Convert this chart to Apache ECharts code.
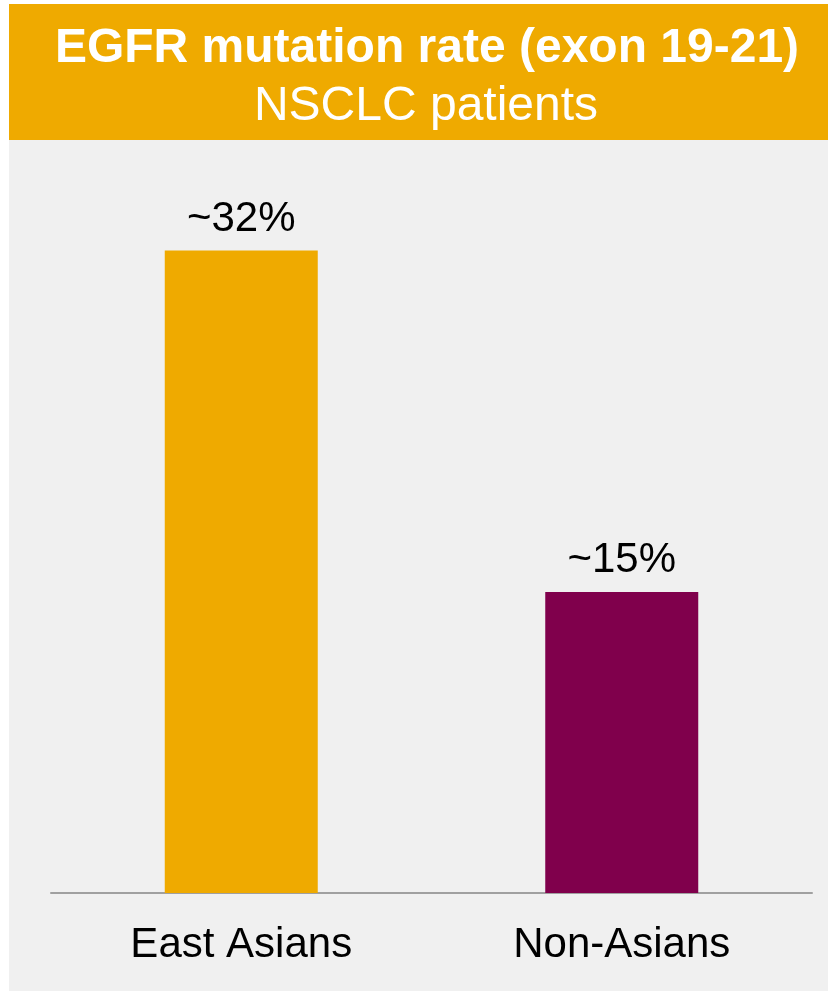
<!DOCTYPE html>
<html>
<head>
<meta charset="utf-8">
<style>
  html, body { margin: 0; padding: 0; background: #ffffff; }
  #chart { width: 828px; height: 991px; }
</style>
<script src="https://cdn.jsdelivr.net/npm/echarts@6/dist/echarts.min.js"></script>
</head>
<body>
<div id="chart"></div>
<script>
const categories = ["East Asians", "Non-Asians"];
const values = [32, 15];
const valueLabels = ["~32%", "~15%"];
const barColors = ["#EFAA00", "#80004C"];
const titleText = "EGFR mutation rate (exon 19-21)";
const subtitleText = "NSCLC patients";

const FONT = "'Liberation Sans', Arial, sans-serif";
const chart = echarts.init(document.getElementById('chart'));
chart.setOption({
  backgroundColor: '#ffffff',
  animation: false,
  graphic: [
    { type: 'rect', z: -10, shape: { x: 9, y: 140, width: 819, height: 851 }, style: { fill: '#F0F0F0' } },
    { type: 'rect', z: -10, shape: { x: 9, y: 4, width: 819, height: 136 }, style: { fill: '#EFAA00' } },
    { type: 'text', x: 427, y: 49, style: { text: titleText, fill: '#ffffff', font: 'bold 48px ' + FONT, textAlign: 'center', textVerticalAlign: 'middle' } },
    { type: 'text', x: 426, y: 107, style: { text: subtitleText, fill: '#ffffff', font: '48px ' + FONT, textAlign: 'center', textVerticalAlign: 'middle' } }
  ],
  grid: { left: 51, right: 16, top: 90, bottom: 98, containLabel: false },
  xAxis: {
    type: 'category',
    data: categories,
    axisLine: { show: true, lineStyle: { color: '#A0A0A0', width: 2 } },
    axisTick: { show: false },
    axisLabel: { color: '#000000', fontSize: 42, fontFamily: FONT, margin: 31 }
  },
  yAxis: {
    type: 'value',
    min: 0, max: 40,
    show: false,
    splitLine: { show: false }
  },
  series: [{
    type: 'bar',
    barWidth: 153,
    data: values.map((v, i) => ({ value: v, itemStyle: { color: barColors[i] } })),
    label: {
      show: true,
      position: 'top',
      distance: 10,
      color: '#000000',
      fontSize: 42,
      fontFamily: FONT,
      formatter: p => valueLabels[p.dataIndex]
    }
  }]
});
</script>
</body>
</html>
